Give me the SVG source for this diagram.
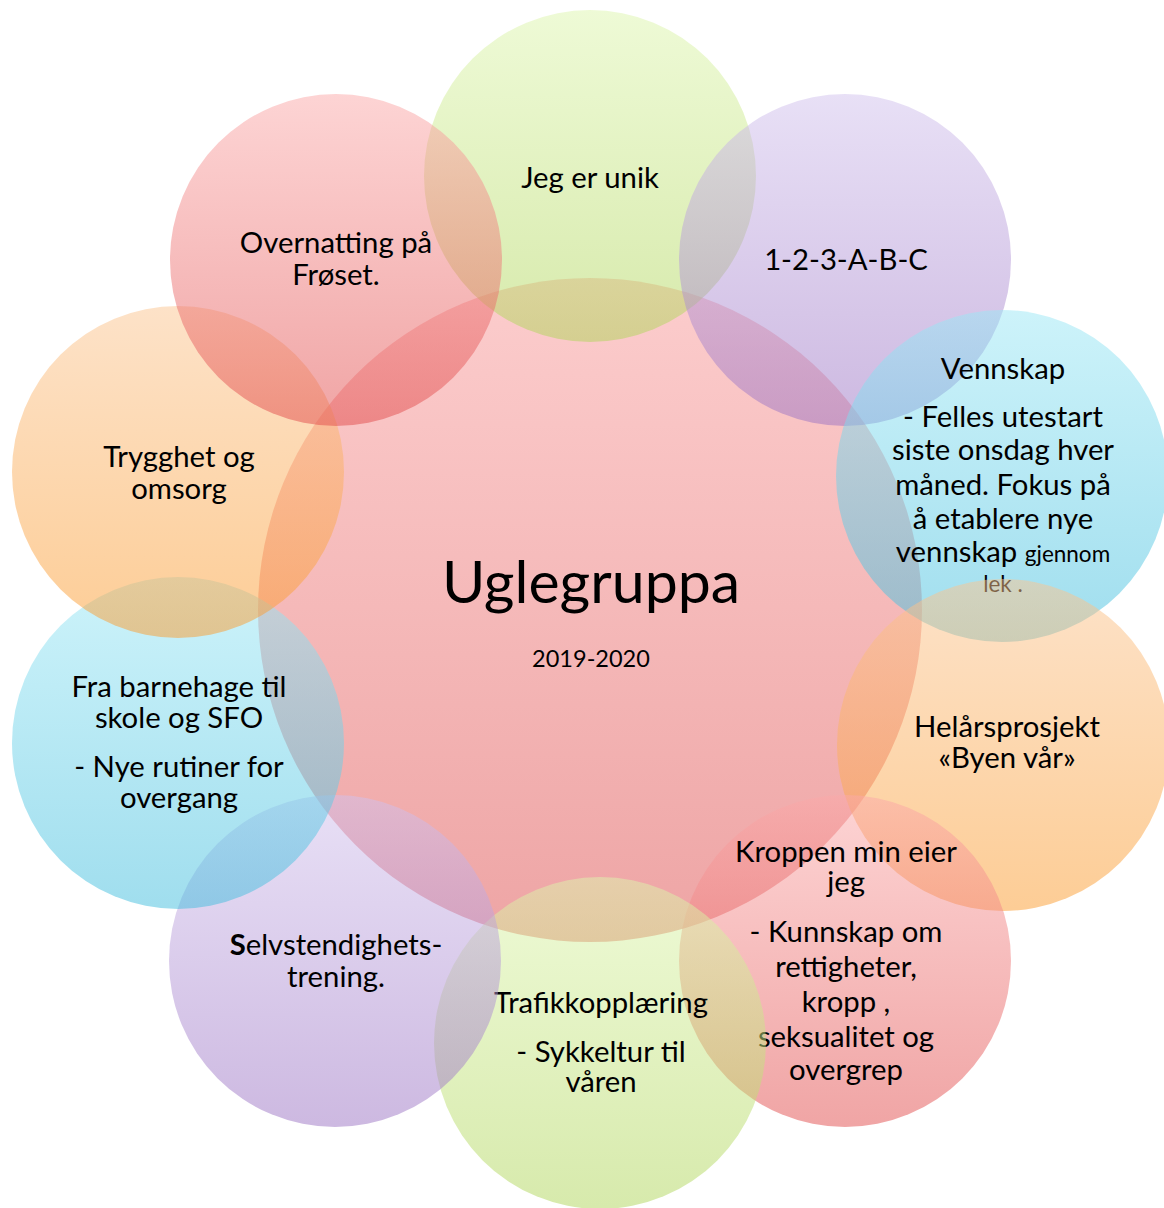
<svg xmlns="http://www.w3.org/2000/svg" width="1164" height="1208" viewBox="0 0 1164 1208">
<defs>
<linearGradient id="gGreen" x1="0" y1="0" x2="0" y2="1"><stop offset="0" stop-color="#DDF5AD"/><stop offset="1" stop-color="#AFD559"/></linearGradient>
<linearGradient id="gPurple" x1="0" y1="0" x2="0" y2="1"><stop offset="0" stop-color="#D1C1ED"/><stop offset="1" stop-color="#9B73C3"/></linearGradient>
<linearGradient id="gCyan" x1="0" y1="0" x2="0" y2="1"><stop offset="0" stop-color="#9BE7F5"/><stop offset="1" stop-color="#41BDDD"/></linearGradient>
<linearGradient id="gOrange" x1="0" y1="0" x2="0" y2="1"><stop offset="0" stop-color="#FBC591"/><stop offset="1" stop-color="#FB9B2D"/></linearGradient>
<linearGradient id="gPink" x1="0" y1="0" x2="0" y2="1"><stop offset="0" stop-color="#FBA9A9"/><stop offset="1" stop-color="#E14B4B"/></linearGradient>
<linearGradient id="gCenter" x1="0" y1="0" x2="0" y2="1"><stop offset="0" stop-color="#F99B9B"/><stop offset="1" stop-color="#DD4B4B"/></linearGradient>
</defs>
<style>
circle { fill-opacity: 0.5; stroke: none; }
text { font-family: Lato, "Liberation Sans", sans-serif; font-size: 29.3px; fill: #000; text-anchor: middle; }
.big { font-size: 59px; }
.yr { font-size: 23.5px; }
.sm { font-size: 22.5px; }
</style>
<g id="center">
<circle cx="590" cy="610" r="332" fill="url(#gCenter)"/>
<text class="big" x="591" y="603">Uglegruppa</text>
<text class="yr" x="591" y="667">2019-2020</text>
</g>
<g id="jeg-er-unik">
<circle cx="590" cy="176" r="166" fill="url(#gGreen)"/>
<text x="590" y="188">Jeg er unik</text>
</g>
<g id="abc">
<circle cx="845" cy="260" r="166" fill="url(#gPurple)"/>
<text x="846" y="270">1-2-3-A-B-C</text>
</g>
<g id="vennskap">
<circle cx="1002" cy="476" r="166" fill="url(#gCyan)"/>
<text x="1003" y="379">Vennskap</text>
<text><tspan x="1003" y="427">- Felles utestart</tspan><tspan x="1003" y="460">siste onsdag hver</tspan><tspan x="1003" y="495">måned. Fokus på</tspan><tspan x="1003" y="529">å etablere nye</tspan><tspan x="1003" y="562">vennskap <tspan class="sm">gjennom</tspan></tspan><tspan class="sm" x="1003" y="592">lek .</tspan></text>
</g>
<g id="helarsprosjekt">
<circle cx="1003" cy="745" r="166" fill="url(#gOrange)"/>
<text><tspan x="1007" y="737">Helårsprosjekt</tspan><tspan x="1007" y="768">«Byen vår»</tspan></text>
</g>
<g id="kroppen">
<circle cx="845" cy="961" r="166" fill="url(#gPink)"/>
<text><tspan x="846" y="862">Kroppen min eier</tspan><tspan x="846" y="892">jeg</tspan></text>
<text><tspan x="846" y="942">- Kunnskap om</tspan><tspan x="846" y="977">rettigheter,</tspan><tspan x="846" y="1012">kropp ,</tspan><tspan x="846" y="1047">seksualitet og</tspan><tspan x="846" y="1080">overgrep</tspan></text>
</g>
<g id="trafikk">
<circle cx="600" cy="1043" r="166" fill="url(#gGreen)"/>
<text x="601" y="1013">Trafikkopplæring</text>
<text><tspan x="601" y="1062">- Sykkeltur til</tspan><tspan x="601" y="1092">våren</tspan></text>
</g>
<g id="selvstendighet">
<circle cx="335" cy="961" r="166" fill="url(#gPurple)"/>
<text><tspan x="336" y="955"><tspan font-weight="bold">S</tspan>elvstendighets-</tspan><tspan x="336" y="987">trening.</tspan></text>
</g>
<g id="overgang">
<circle cx="178" cy="743" r="166" fill="url(#gCyan)"/>
<text><tspan x="179" y="697">Fra barnehage til</tspan><tspan x="179" y="728">skole og SFO</tspan></text>
<text><tspan x="179" y="777">- Nye rutiner for</tspan><tspan x="179" y="808">overgang</tspan></text>
</g>
<g id="trygghet">
<circle cx="178" cy="472" r="166" fill="url(#gOrange)"/>
<text><tspan x="179" y="467">Trygghet og</tspan><tspan x="179" y="499">omsorg</tspan></text>
</g>
<g id="overnatting">
<circle cx="336" cy="260" r="166" fill="url(#gPink)"/>
<text><tspan x="336" y="253">Overnatting på</tspan><tspan x="336" y="285">Frøset.</tspan></text>
</g>
<g id="connectors"></g>
</svg>
